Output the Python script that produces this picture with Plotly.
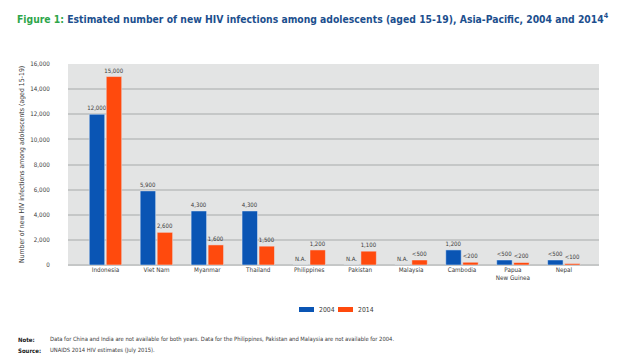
import plotly.graph_objects as go

countries = ["Indonesia", "Viet Nam", "Myanmar", "Thailand", "Philippines", "Pakistan",
             "Malaysia", "Cambodia", "Papua<br>New Guinea", "Nepal"]
# None = not available (N.A.)
values_2004 = [12000, 5900, 4300, 4300, None, None, None, 1200, 400, 400]
values_2014 = [15000, 2600, 1600, 1500, 1200, 1100, 400, 220, 200, 120]
labels_2004 = ["12,000", "5,900", "4,300", "4,300", "N.A.", "N.A.", "N.A.", "1,200", "<500", "<500"]
labels_2014 = ["15,000", "2,600", "1,600", "1,500", "1,200", "1,100", "<500", "<200", "<200", "<100"]
y_ticks = [0, 2000, 4000, 6000, 8000, 10000, 12000, 14000, 16000]

FONT = "DejaVu Sans Condensed, DejaVu Sans, sans-serif"
BLUE = "#0a55b4"
ORANGE = "#ff4a0d"
TXT = "#3a3a3a"


def f(size, color=TXT, **kw):
    return dict(family=FONT, size=size, color=color, **kw)


fig = go.Figure()
fig.add_trace(go.Bar(
    x=countries, y=[v if v is not None else 0 for v in values_2004], name="2004",
    marker_color=BLUE, text=labels_2004, textposition="outside", constraintext="none",
    textfont=f(6), cliponaxis=False,
))
fig.add_trace(go.Bar(
    x=countries, y=values_2014, name="2014",
    marker_color=ORANGE, text=labels_2014, textposition="outside", constraintext="none",
    textfont=f(6), cliponaxis=False,
))

fig.update_layout(
    width=620, height=359,
    margin=dict(l=68, r=21, t=64, b=94),
    paper_bgcolor="white", plot_bgcolor="#e3e4e4",
    barmode="group", bargap=0.333, bargroupgap=0.09,
    showlegend=False,
    font=f(6.5),
    title=dict(
        text="<span style='color:#2ea64a'>Figure 1:</span> Estimated number of new HIV infections among adolescents (aged 15-19), Asia-Pacific, 2004 and 2014<sup>4</sup>",
        x=17/620, xanchor="left", y=1-19/359, yanchor="middle",
        font=f(10.3, "#1c4f8e", weight="bold"),
    ),
    xaxis=dict(range=[-0.736, 9.69], showgrid=False, showline=False, ticks="",
               tickfont=f(6.3)),
    yaxis=dict(range=[0, 16000], tickvals=y_ticks, tickformat=",d",
               gridcolor="#c5c7c7", gridwidth=1.5, zeroline=True, zerolinecolor="#c5c7c7",
               zerolinewidth=1.5, showline=False, ticks="outside", ticklen=0,
               ticklabelstandoff=16,
               tickfont=f(6.2)),
)

# rotated y-axis title placed at the reference position
def px2x(p):
    return (p - 68) / 531

def px2y(p):
    return (265 - p) / 201

fig.add_annotation(xref="paper", yref="paper", x=px2x(22), y=px2y(165),
                   text="Number of new HIV infections among adolescents (aged 15-19)",
                   textangle=-90, showarrow=False, xanchor="center", yanchor="middle",
                   font=f(6.9))

# custom legend
fig.add_shape(type="rect", xref="paper", yref="paper", x0=px2x(299), x1=px2x(314),
              y0=px2y(312), y1=px2y(307), fillcolor=BLUE, line_width=0)
fig.add_shape(type="rect", xref="paper", yref="paper", x0=px2x(338), x1=px2x(353),
              y0=px2y(312), y1=px2y(307), fillcolor=ORANGE, line_width=0)
fig.add_annotation(xref="paper", yref="paper", x=px2x(316.5), y=px2y(309.5), text="2004",
                   showarrow=False, xanchor="left", yanchor="middle", font=f(6.8))
fig.add_annotation(xref="paper", yref="paper", x=px2x(355.5), y=px2y(309.5), text="2014",
                   showarrow=False, xanchor="left", yanchor="middle", font=f(6.8))

# notes
notes = [("Note:", "Data for China and India are not available for both years. Data for the Philippines, Pakistan and Malaysia are not available for 2004.", 339),
         ("Source:", "UNAIDS 2014 HIV estimates (July 2015).", 350)]
for lab, txt, yy in notes:
    fig.add_annotation(xref="paper", yref="paper", x=px2x(16), y=px2y(yy), text="<b>" + lab + "</b>",
                       showarrow=False, xanchor="left", yanchor="middle", font=f(6, "#1a1a1a"))
    fig.add_annotation(xref="paper", yref="paper", x=px2x(48), y=px2y(yy), text=txt,
                       showarrow=False, xanchor="left", yanchor="middle", font=f(5.8))

fig.write_html("out.html", config={"displayModeBar": False},
               post_script="document.body.style.margin='0';")
